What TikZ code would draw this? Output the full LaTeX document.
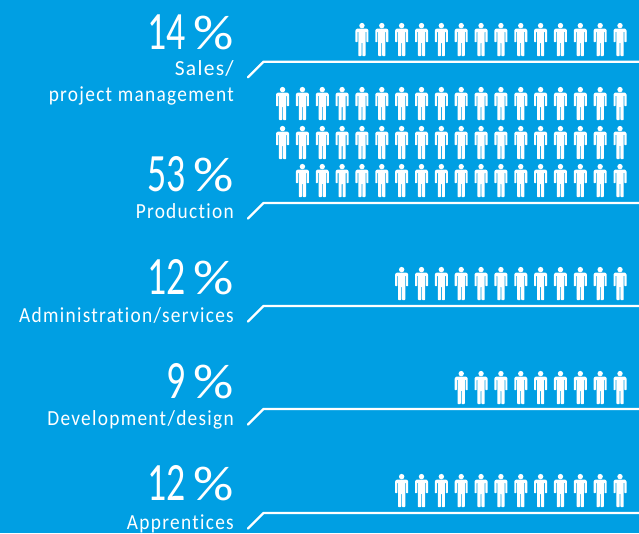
\documentclass[tikz,border=0pt]{standalone}
\usepackage{fontspec}
\setmainfont{Carlito}
\newfontfamily\bigf[FakeStretch=0.70]{Carlito}
\newfontfamily\pctf[FakeStretch=1.15]{Carlito}
\newfontfamily\lblf[FakeStretch=0.90,LetterSpace=6,Ligatures={NoCommon}]{Carlito}
\newfontfamily\lblw[FakeStretch=1.0,LetterSpace=6,Ligatures={NoCommon}]{Carlito}
\definecolor{bgblue}{HTML}{009FE3}
\newcommand{\pctsign}{\kern8pt{\pctf\fontsize{49}{49}\selectfont\%}}
\tikzset{
  x=1pt,y=-1pt,
  bigpct/.style={anchor=base east,text=white,inner sep=0pt,text height=35pt,text depth=0pt,font=\bigf\fontsize{54}{54}\selectfont},
  lbl/.style={anchor=base east,text=white,inner sep=0pt,align=right,font=\lblf\fontsize{21.5}{26}\selectfont},
  rule/.style={draw=white,line width=2.4pt,line cap=round,line join=round},
  person/.pic={
    \fill[white] (0,2.6) circle (2.7);
    \fill[white,rounded corners=0.6pt] (-6.5,7) -- (-5,5.6) -- (5,5.6) -- (6.5,7) -- (6.5,19.2) -- (4.4,19.2) -- (4.4,8.5) -- (3.6,8.5) -- (3.6,33) -- (0.4,33) -- (0.4,19.5) -- (-0.4,19.5) -- (-0.4,33) -- (-3.6,33) -- (-3.6,8.5) -- (-4.4,8.5) -- (-4.4,19.2) -- (-6.5,19.2) -- cycle;
  }
}
\begin{document}
\begin{tikzpicture}
\useasboundingbox[fill=bgblue] (0,0) rectangle (639,533);
\foreach \r/\t in {4/23,0/87,0/126,1/164,6/267,9/371,6/474} {
  \pgfmathtruncatemacro{\n}{17-\r}
  \foreach \i in {0,...,\n} \pic at ({620-\i*19.85},\t) {person};
}
\foreach \y in {61.7,203,306,409,513} {\draw[rule] (248,\y+15.5) -- (263.5,\y) -- (639,\y);}
\node[bigpct] (p1) at (234,49) {14\pctsign};
\node[lbl,font=\lblw\fontsize{21.5}{26}\selectfont] (l1) at (234,75) {Sales/};
\node[lbl] (l1b) at (234,101) {project management};
\node[bigpct] (p2) at (234,191) {53\pctsign};
\node[lbl] (l2) at (234,218) {Production};
\node[bigpct] (p3) at (234,294) {12\pctsign};
\node[lbl] (l3) at (234,322) {Administration/services};
\node[bigpct] (p4) at (234,398) {9\pctsign};
\node[lbl] (l4) at (234,425) {Development/design};
\node[bigpct] (p5) at (234,500) {12\pctsign};
\node[lbl] (l5) at (234,529) {Apprentices};
\end{tikzpicture}
\end{document}
